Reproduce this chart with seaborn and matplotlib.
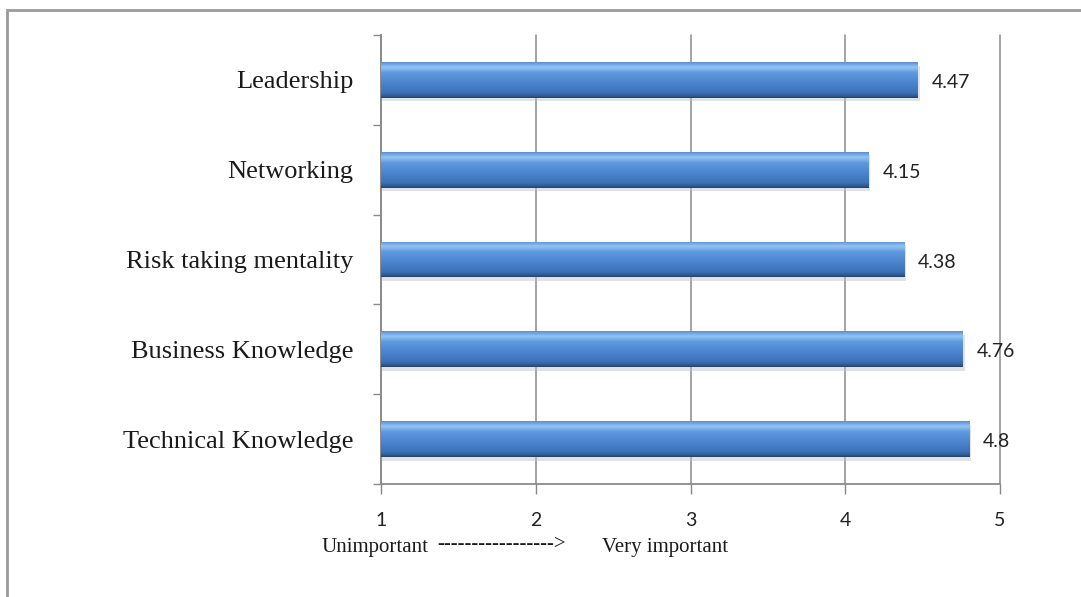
import numpy as np
import pandas as pd
import matplotlib
matplotlib.use("Agg")
import matplotlib.pyplot as plt
import seaborn as sns
from matplotlib.patches import Rectangle
from matplotlib.colors import LinearSegmentedColormap

categories = ["Leadership", "Networking", "Risk taking mentality",
              "Business Knowledge", "Technical Knowledge"]
scores = [4.47, 4.15, 4.38, 4.76, 4.8]
value_labels = ["4.47", "4.15", "4.38", "4.76", "4.8"]
x_ticks = [1, 2, 3, 4, 5]
x_tick_labels = ["1", "2", "3", "4", "5"]

df = pd.DataFrame({"skill": categories, "score": scores})

sns.set_theme(style="white")
W, H = 1081, 597
fig = plt.figure(figsize=(W / 100, H / 100), dpi=100)
fig.patch.set_facecolor("white")
ax = fig.add_axes([381 / W, 1 - 484 / H, (1000 - 381) / W, (484 - 35) / H])

sns.barplot(data=df, y="skill", x="score", orient="h", ax=ax,
            color="#4F86CC", width=0.4, edgecolor="none", zorder=3)
ax.set_xlim(1, 5)
ax.set_ylim(4.5, -0.5)

# gradient shading on bars (Excel-like cylinder look)
cmap = LinearSegmentedColormap.from_list(
    "bar", [(0.0, "#5A8ED4"), (0.14, "#93C5F3"), (0.30, "#5E98DD"),
            (0.60, "#4A84CD"), (0.85, "#3D72B8"), (0.95, "#2E5A92"), (1.0, "#2A3F5E")])
grad = np.linspace(0, 1, 128).reshape(-1, 1)
for p in ax.patches:
    x0, y0 = p.get_x(), p.get_y()
    w, h = p.get_width(), p.get_height()
    # soft shadow
    ax.add_patch(Rectangle((max(x0, 1), y0 + h * 0.10), x0 + w - max(x0, 1) + 0.012, h,
                           facecolor="#b8c2cc", alpha=0.45, edgecolor="none", zorder=2))
    im = ax.imshow(grad, cmap=cmap, aspect="auto", zorder=4,
                   extent=(max(x0, 1), x0 + w, y0 + h, y0), interpolation="bilinear")
    im.set_clip_path(p)

ax.set_xlim(1, 5)
ax.set_ylim(4.5, -0.5)

for i, (v, lab) in enumerate(zip(scores, value_labels)):
    ax.text(v + 0.09, i + 0.03, lab, va="center", ha="left",
            fontsize=14, family="Lato", color="#222222", zorder=5)

# grid and spines
ax.set_xticks(x_ticks)
ax.set_xticklabels(x_tick_labels, family="Lato", fontsize=14, color="#222222")
ax.tick_params(axis="x", which="major", direction="out", length=7, width=1,
               color="#888888", pad=13, bottom=True)
ax.xaxis.grid(True, color="#8a8a8a", linewidth=1.1, zorder=0)
for gl in ax.get_xgridlines():
    gl.set_clip_on(False)
ax.set_axisbelow(True)
for s in ["top", "right"]:
    ax.spines[s].set_visible(False)
for s in ["left", "bottom"]:
    ax.spines[s].set_color("#8a8a8a")
    ax.spines[s].set_linewidth(1.3)

ax.set_yticks(range(len(categories)))
ax.set_yticklabels(categories, family="Liberation Serif", fontsize=19, color="#1a1a1a")
ax.tick_params(axis="y", which="major", length=0, pad=20)
ax.set_yticks(np.arange(-0.5, len(categories), 1.0), minor=True)
ax.tick_params(axis="y", which="minor", direction="out", length=6, width=1,
               color="#8a8a8a", left=True)
ax.set_xlabel("")
ax.set_ylabel("")

# axis caption
fig.text(322 / W, 1 - 552 / H, "Unimportant", family="Liberation Serif",
         fontsize=15, va="baseline", ha="left", color="#1a1a1a")
fig.text(437 / W, 1 - 549 / H, "----------------->", family="Liberation Serif",
         fontsize=15, va="baseline", ha="left", color="#1a1a1a")
fig.text(602 / W, 1 - 552 / H, "Very important", family="Liberation Serif",
         fontsize=15, va="baseline", ha="left", color="#1a1a1a")

# chart frame
fig.patches.append(Rectangle((7 / W, -0.02), 1.1, 1 - 10 / H + 0.02,
                             transform=fig.transFigure, fill=False,
                             edgecolor="#9a9a9a", linewidth=2, zorder=0))

fig.savefig("out.png", dpi=100)
